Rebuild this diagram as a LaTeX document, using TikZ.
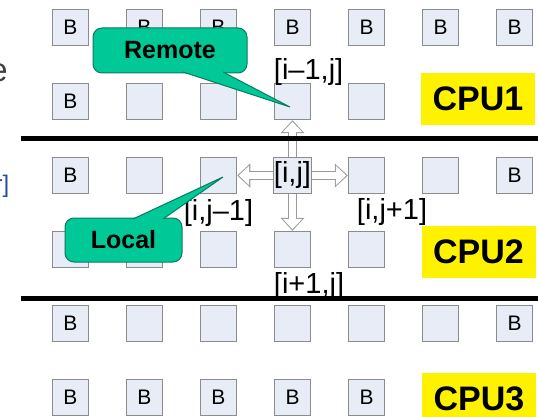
\documentclass[tikz,border=0pt]{standalone}
\usepackage{fontspec}
\setmainfont{Liberation Sans}
\usetikzlibrary{arrows.meta,positioning}

\definecolor{cellfill}{HTML}{E7ECF7}
\definecolor{celldraw}{HTML}{8C8C8C}
\definecolor{callfill}{HTML}{00C896}
\definecolor{calldraw}{HTML}{0B7A60}
\definecolor{arrgray}{HTML}{999999}
\definecolor{fragblue}{HTML}{2A4F96}
\definecolor{fraggray}{HTML}{404040}

\begin{document}
\begin{tikzpicture}[
  x=1pt, y=-1pt,
  cell/.style={draw=celldraw, fill=cellfill, line width=1pt, minimum size=36.5pt,
               inner sep=0pt, font=\fontsize{21}{21}\selectfont},
  lbl/.style={inner sep=0pt, font=\fontsize{29}{29}\selectfont},
  cpu/.style={fill=yellow, minimum width=114pt, minimum height=52pt,
              font=\fontsize{34}{34}\selectfont\bfseries},
  callbox/.style={draw=calldraw, fill=callfill, line width=1pt, rounded corners=9pt,
                  font=\fontsize{25}{25}\selectfont\bfseries},
  pointer/.style={draw=calldraw, fill=callfill, line width=1pt, line join=miter},
  sep/.style={line width=5.5pt},
  arrout/.style={line width=9.5pt, arrgray, -{Triangle[length=13pt, width=24pt, line width=0pt]}},
  arrin/.style={line width=7pt, white, shorten >=1.6pt,
                -{Triangle[length=10.2pt, width=19.4pt, line width=0pt]}}
]
\useasboundingbox (0,0) rectangle (538,417);

% grid of cells, B on the boundary
\foreach \row/\last in {1/7,2/5,3/7,4/5,5/7,6/5}
  \foreach \col in {1,...,\last} {
    \pgfmathtruncatemacro\isB{(\row==1)||(\row==6)||(\col==1)||(\col==7)}
    \ifnum\row\col=34 \else
      \node[cell] (s-\row-\col) at ({70.5+74*(\col-1)}, {27.5+74*(\row-1)}) {\ifnum\isB=1 B\fi};
    \fi
  }

% block arrows from the centre cell
\coordinate (ij) at (292.5,175.5);
\foreach \n in {s-2-4,s-4-4,s-3-3,s-3-5} \draw[arrout] (ij) -- (\n);
\foreach \n in {s-2-4,s-4-4,s-3-3,s-3-5} \draw[arrin] (ij) -- (\n);
\node[cell, lbl] (s-3-4) at (ij) {[i,j]};

% neighbour labels
\node[lbl, anchor=south west] (lbl-up) at ([yshift=-3pt]s-2-4.north west) {[i–1,j]};
\node[lbl, below=5.5pt of s-3-3] (lbl-left) {[i,j–1]};
\node[lbl, anchor=north west] (lbl-right) at ([xshift=9pt, yshift=-4pt]s-3-5.south west) {[i,j+1]};
\node[lbl, anchor=north west] (lbl-down) at ([yshift=-4pt]s-4-4.south west) {[i+1,j]};

% CPU boundaries
\draw[sep] (20.5,138.5) -- (538,138.5);
\draw[sep] (20.5,298.5) -- (538,298.5);

% callouts
\node[callbox, minimum width=154pt, minimum height=45pt] (remote) at (170,50.5) {Remote};
\coordinate (rtip) at (290,107);
\filldraw[pointer] ([xshift=13pt, yshift=1.5pt]remote.south) -- (rtip) -- ([xshift=53pt, yshift=1.5pt]remote.south);

\node[callbox, minimum width=117pt, minimum height=44pt] (local) at (123.5,240) {Local};
\coordinate (ltip) at (223,177);
\filldraw[pointer] ([xshift=9.5pt, yshift=-1.5pt]local.north) -- (ltip) -- ([xshift=39.5pt, yshift=-1.5pt]local.north);

% CPU tags
\node[cpu] (cpu1) at (478,99) {CPU1};
\node[cpu] (cpu2) at (478.5,251.5) {CPU2};
\node[cpu] (cpu3) at (479,399) {CPU3};

% cropped text at the left edge
\node[inner sep=0pt, anchor=base east, text=fraggray, font=\fontsize{33}{33}\selectfont] (frag1) at (8,82) {e};
\node[inner sep=0pt, anchor=base east, text=fragblue, font=\fontsize{24}{24}\selectfont] (frag2) at (9.5,192) {r]};
\end{tikzpicture}
\end{document}
